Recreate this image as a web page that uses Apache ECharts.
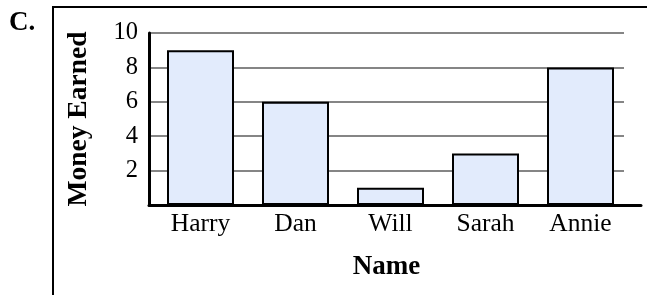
<!DOCTYPE html>
<html>
<head>
<meta charset="utf-8">
<script src="https://cdn.jsdelivr.net/npm/echarts@6/dist/echarts.min.js"></script>
<style>
html,body{margin:0;padding:0;background:#fff;}
#chart{width:647px;height:295px;}
</style>
</head>
<body>
<div id="chart"></div>
<script>
const categories = ['Harry', 'Dan', 'Will', 'Sarah', 'Annie'];
const moneyEarned = [9, 6, 1, 3, 8];
const yTicks = [0, 2, 4, 6, 8, 10];
const panelLabel = 'C.';
const xAxisTitle = 'Name';
const yAxisTitle = 'Money Earned';

const FONT = '"Liberation Serif", "Times New Roman", serif';
const chart = echarts.init(document.getElementById('chart'), null, {renderer: 'canvas'});

const option = {
  animation: false,
  backgroundColor: '#fff',
  title: {
    text: panelLabel, left: 9, top: 10, padding: 0,
    textStyle: {fontFamily: FONT, fontSize: 27, fontWeight: 'bold', color: '#000'}
  },
  graphic: [{
    type: 'polyline', silent: true, z: 0,
    shape: {points: [[53, 300], [53, 7], [660, 7]]},
    style: {stroke: '#000', lineWidth: 2, fill: null}
  }],
  grid: [
    {left: 153, right: 19, top: 33, bottom: 90},
    {left: 149, right: 23, top: 33, bottom: 90},
    {left: 149, right: 6, top: 33, bottom: 90}
  ],
  xAxis: [
    {
      type: 'category', gridIndex: 0, data: categories,
      axisLine: {show: false}, axisTick: {show: false},
      axisLabel: {fontFamily: FONT, fontSize: 25.5, color: '#000', margin: 6}
    },
    {
      type: 'value', gridIndex: 1, min: 0, max: 1,
      axisLine: {show: false}, axisTick: {show: false}, axisLabel: {show: false}, splitLine: {show: false},
      name: xAxisTitle, nameLocation: 'middle', nameGap: 49,
      nameTextStyle: {fontFamily: FONT, fontSize: 27, fontWeight: 'bold', color: '#000'}
    },
    {
      type: 'value', gridIndex: 2, min: 0, max: 1,
      axisLine: {show: true, lineStyle: {color: '#000', width: 3}},
      axisTick: {show: false}, axisLabel: {show: false}, splitLine: {show: false}
    }
  ],
  yAxis: [
    {
      type: 'value', gridIndex: 0, min: yTicks[0], max: yTicks[yTicks.length - 1], interval: 2,
      show: false
    },
    {
      type: 'value', gridIndex: 1, min: yTicks[0], max: yTicks[yTicks.length - 1], interval: 2,
      axisLine: {show: true, lineStyle: {color: '#000', width: 3}},
      axisTick: {show: false},
      axisLabel: {fontFamily: FONT, fontSize: 24.5, color: '#000', margin: 11, showMinLabel: false},
      splitLine: {show: true, lineStyle: {color: '#858585', width: 2}},
      name: yAxisTitle, nameLocation: 'middle', nameGap: 56,
      nameTextStyle: {fontFamily: FONT, fontSize: 27.5, fontWeight: 'bold', color: '#000'}
    },
    {
      type: 'value', gridIndex: 2, min: 0, max: 10, show: false
    }
  ],
  series: [{
    type: 'bar', xAxisIndex: 0, yAxisIndex: 0, z: 5,
    data: moneyEarned, barWidth: 67,
    itemStyle: {color: '#e2ebfc', borderColor: '#000', borderWidth: 2}
  }]
};
chart.setOption(option);
</script>
</body>
</html>
